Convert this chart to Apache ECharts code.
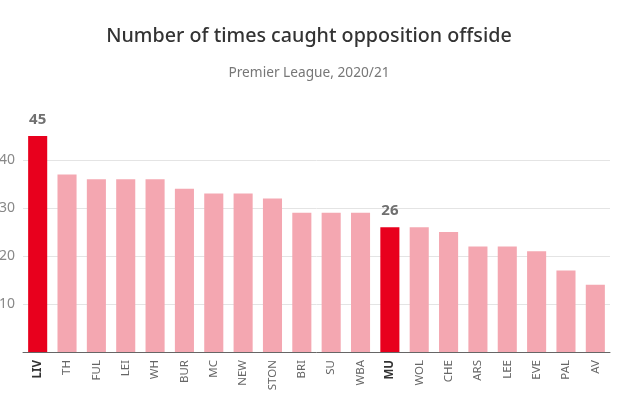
<!DOCTYPE html>
<html>
<head>
<meta charset="utf-8">
<script src="https://cdn.jsdelivr.net/npm/echarts@6/dist/echarts.min.js"></script>
<style>html,body{margin:0;padding:0;background:#fff;}#c{width:644px;height:408px;}</style>
</head>
<body>
<div id="c"></div>
<script>
const categories = ['LIV','TH','FUL','LEI','WH','BUR','MC','NEW','STON','BRI','SU','WBA','MU','WOL','CHE','ARS','LEE','EVE','PAL','AV'];
const values = [45,37,36,36,36,34,33,33,32,29,29,29,26,26,25,22,22,21,17,14];
const highlighted = ['LIV','MU'];
const titleText = 'Number of times caught opposition offside';
const subtitleText = 'Premier League, 2020/21';

const RED = '#e8001d', PINK = '#f4a7b1';
const chart = echarts.init(document.getElementById('c'));
chart.setOption({
  animation: false,
  title: [
    {text: titleText, left: 304, top: 21, textAlign: 'center',
     textStyle: {fontFamily: 'Noto Sans', fontSize: 19.7, fontWeight: 500, color: '#333'}},
    {text: subtitleText, left: 304, top: 61, textAlign: 'center',
     textStyle: {fontFamily: 'Noto Sans', fontSize: 13.7, fontWeight: 'normal', color: '#777'}}
  ],
  grid: {left: 23, right: 34, top: 136, bottom: 56, containLabel: false, outerBoundsMode: 'none'},
  xAxis: {
    type: 'category', data: categories,
    axisLine: {lineStyle: {color: '#666'}},
    axisTick: {show: false},
    axisLabel: {
      rotate: 90, interval: 0, margin: 8, fontFamily: 'Noto Sans', fontSize: 11.5, color: '#666',
      formatter: v => highlighted.includes(v) ? '{b|' + v + '}' : v,
      rich: {b: {fontWeight: 'bold', color: '#333', fontFamily: 'Noto Sans', fontSize: 11.5}}
    }
  },
  yAxis: {
    type: 'value', min: 0, max: 45, interval: 10,
    axisLine: {show: false}, axisTick: {show: false},
    axisLabel: {margin: 8, fontFamily: 'Noto Sans', fontSize: 14, color: '#888', showMaxLabel: false, showMinLabel: false},
    splitLine: {showMaxLine: false, lineStyle: {color: '#e4e4e4'}}
  },
  series: [{
    type: 'bar', barWidth: '65%',
    data: values.map((v, i) => {
      const h = highlighted.includes(categories[i]);
      return {value: v, itemStyle: {color: h ? RED : PINK},
        label: {show: h, position: 'top', distance: 9, formatter: '{c}',
          fontFamily: 'Noto Sans', fontSize: 15, fontWeight: 'bold', color: '#707070'}};
    })
  }]
});
</script>
</body>
</html>
